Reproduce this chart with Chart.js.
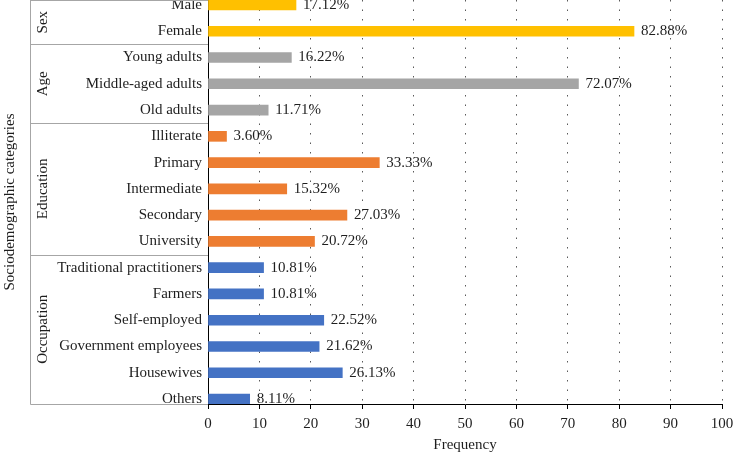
<!DOCTYPE html>
<html><head><meta charset="utf-8">
<script src="https://cdn.jsdelivr.net/npm/chart.js@4/dist/chart.umd.min.js"></script>
<style>html,body{margin:0;padding:0;background:#fff;} #wrap{width:733px;height:454px;position:relative;}</style>
</head><body><div id="wrap"><canvas id="c"></canvas></div>
<script>
const categories = ["Male","Female","Young adults","Middle-aged adults","Old adults","Illiterate","Primary","Intermediate","Secondary","University","Traditional practitioners","Farmers","Self-employed","Government employees","Housewives","Others"];
const values = [17.12,82.88,16.22,72.07,11.71,3.60,33.33,15.32,27.03,20.72,10.81,10.81,22.52,21.62,26.13,8.11];
const groupNames = ["Sex","Age","Education","Occupation"];
const groupSizes = [2,3,5,6];
const xTicks = [0,10,20,30,40,50,60,70,80,90,100];

const groupColors = ["#FFC000","#A5A5A5","#ED7D31","#4472C4"];
const FONT = "'Liberation Serif', 'Times New Roman', serif";
const TXT = "#1e1e1e";

const barColors = [];
groupSizes.forEach((n, g) => { for (let k = 0; k < n; k++) barColors.push(groupColors[g]); });

const groupPlugin = {
  id: 'groups',
  afterDraw(chart) {
    const ctx = chart.ctx, y = chart.scales.y, area = chart.chartArea;
    const x0 = 30.5, x1 = area.left;
    ctx.save();
    ctx.strokeStyle = '#a6a6a6';
    ctx.lineWidth = 1;
    ctx.beginPath();
    ctx.moveTo(x0, area.top + 0.5); ctx.lineTo(x1, area.top + 0.5);
    ctx.moveTo(x0, area.top); ctx.lineTo(x0, area.bottom + 0.5);
    let start = 0;
    const bounds = [];
    groupSizes.forEach((n) => {
      const end = start + n;
      const yb = end >= categories.length ? area.bottom + 0.5 : Math.round(y.getPixelForValue(end - 0.5)) + 0.5;
      ctx.moveTo(x0, yb); ctx.lineTo(x1, yb);
      bounds.push([start, end]);
      start = end;
    });
    ctx.stroke();
    ctx.fillStyle = TXT;
    ctx.font = "15px " + FONT;
    ctx.textAlign = 'center';
    ctx.textBaseline = 'middle';
    bounds.forEach(([s, e], g) => {
      const top = s === 0 ? area.top : y.getPixelForValue(s - 0.5);
      const bot = e >= categories.length ? area.bottom : y.getPixelForValue(e - 0.5);
      ctx.save();
      ctx.translate(43, (top + bot) / 2);
      ctx.rotate(-Math.PI / 2);
      ctx.fillText(groupNames[g], 0, 0);
      ctx.restore();
    });
    ctx.restore();
  },
  afterDatasetsDraw(chart) {
    const ctx = chart.ctx;
    const meta = chart.getDatasetMeta(0);
    ctx.save();
    ctx.fillStyle = TXT;
    ctx.font = "15px " + FONT;
    ctx.textAlign = 'left';
    ctx.textBaseline = 'middle';
    meta.data.forEach((bar, i) => {
      ctx.fillText(values[i].toFixed(2) + '%', bar.x + 7, bar.y);
    });
    ctx.restore();
  }
};

new Chart(document.getElementById('c'), {
  type: 'bar',
  data: {
    datasets: [{
      data: values.map((v, i) => ({ x: v, y: i })),
      backgroundColor: barColors,
      borderWidth: 0,
      barThickness: 10
    }]
  },
  options: {
    indexAxis: 'y',
    responsive: true,
    maintainAspectRatio: false,
    animation: false,
    layout: { padding: { left: 0, right: 11, top: 0, bottom: 0 } },
    plugins: { legend: { display: false }, tooltip: { enabled: false } },
    scales: {
      x: {
        type: 'linear',
        min: 0, max: 100,
        afterBuildTicks: s => { s.ticks = xTicks.map(v => ({ value: v })); },
        afterFit: s => { s.height = 50; s.paddingRight = 11; s.paddingLeft = 0; },
        ticks: { font: { family: FONT, size: 15 }, color: TXT, padding: 6, maxRotation: 0 },
        grid: { color: 'rgba(60,60,60,0.85)', lineWidth: 1, drawTicks: true, tickLength: 5, tickColor: '#000', tickWidth: 1 },
        border: { display: true, color: '#000', width: 1, dash: [1.5, 8] },
        title: { display: true, text: 'Frequency', font: { family: FONT, size: 15 }, color: TXT, padding: { top: 0, bottom: 0 } }
      },
      y: {
        type: 'linear',
        reverse: true,
        offset: false,
        min: -0.19, max: 15.19,
        afterBuildTicks: s => { s.ticks = categories.map((c, i) => ({ value: i })); },
        afterFit: s => { s.width = 208; s.paddingTop = 0; s.paddingBottom = 0; },
        ticks: { font: { family: FONT, size: 15 }, color: TXT, padding: 6, autoSkip: false, callback: v => categories[v] },
        grid: { display: false, drawTicks: false, offset: false },
        border: { display: true, color: '#000', width: 1 },
        title: { display: true, text: 'Sociodemographic categories', font: { family: FONT, size: 15 }, color: TXT, padding: { top: 1, bottom: 0 } }
      }
    }
  },
  plugins: [groupPlugin]
});
</script>
</body></html>
